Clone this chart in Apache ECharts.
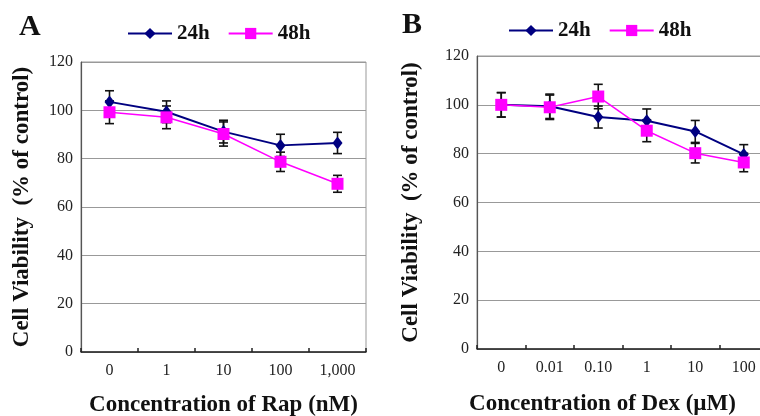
<!DOCTYPE html>
<html>
<head>
<meta charset="utf-8">
<script src="https://cdn.jsdelivr.net/npm/echarts@6/dist/echarts.min.js"></script>
<style>
  html, body { margin: 0; padding: 0; background: #fff; }
  #main { width: 760px; height: 416px; }
</style>
</head>
<body>
<div id="main"></div>
<script>
// panel A - Rap
var catsA = ['0', '1', '10', '100', '1,000'];
var a24 = [103.5, 99.4, 91.2, 85.5, 86.5];
var a24Err = [4.6, 4.5, 4.7, 4.6, 4.4];
var a48 = [99.2, 97.1, 90.2, 78.7, 69.6];
var a48Err = [4.7, 4.7, 5.0, 4.0, 3.5];

// panel B - Dex
var catsB = ['0', '0.01', '0.10', '1', '10', '100'];
var b24 = [100, 99.4, 95.0, 93.5, 89.1, 79.7];
var b24Err = [5.0, 5.0, 4.5, 4.8, 4.5, 4.0];
var b48 = [100, 99.0, 103.4, 89.4, 80.2, 76.4];
var b48Err = [5.0, 5.0, 5.0, 4.5, 4.0, 3.8];

var yTicks = [0, 20, 40, 60, 80, 100, 120];

var serif = "'Liberation Serif', 'Times New Roman', serif";
var navy = '#000080';
var pink = '#ff00ff';

var chart = echarts.init(document.getElementById('main'));

// build [x, low, high] rows for error bars
function errRows(vals, errs) {
  var rows = [];
  for (var i = 0; i < vals.length; i++) {
    rows.push([i, vals[i] - errs[i], vals[i] + errs[i]]);
  }
  return rows;
}

function renderErr(params, api) {
  var x = api.value(0);
  var lo = api.coord([x, api.value(1)]);
  var hi = api.coord([x, api.value(2)]);
  var cap = 4.5;
  var style = { stroke: '#111', lineWidth: 1.6 };
  return {
    type: 'group',
    children: [
      { type: 'line', shape: { x1: hi[0], y1: hi[1], x2: lo[0], y2: lo[1] }, style: style },
      { type: 'line', shape: { x1: hi[0] - cap, y1: hi[1], x2: hi[0] + cap, y2: hi[1] }, style: style },
      { type: 'line', shape: { x1: lo[0] - cap, y1: lo[1], x2: lo[0] + cap, y2: lo[1] }, style: style }
    ]
  };
}

function xAxisOf(idx, cats, name, gap, pad) {
  return {
    type: 'category',
    gridIndex: idx,
    data: cats,
    boundaryGap: true,
    name: name,
    nameLocation: 'middle',
    nameGap: gap,
    nameTextStyle: { fontFamily: serif, fontWeight: 'bold', fontSize: 23, color: '#111', padding: pad },
    axisLine: { lineStyle: { color: '#222', width: 1.5 } },
    axisTick: { show: true, inside: true, length: 4, lineStyle: { color: '#222', width: 1.5 } },
    axisLabel: { fontFamily: serif, fontSize: 16, color: '#222', margin: 11 },
    splitLine: { show: false }
  };
}

function yAxisOf(idx, gap) {
  return {
    type: 'value',
    gridIndex: idx,
    min: 0,
    max: 120,
    interval: 20,
    name: 'Cell Viability  (% of control)',
    nameLocation: 'middle',
    nameGap: gap,
    nameTextStyle: { fontFamily: serif, fontWeight: 'bold', fontSize: 23, color: '#111' },
    axisLine: { show: true, lineStyle: { color: '#555', width: 1.2 } },
    axisTick: { show: false },
    axisLabel: {
      fontFamily: serif, fontSize: 16, color: '#222', margin: 8,
      formatter: function (v) { return yTicks.indexOf(v) >= 0 ? String(v) : ''; }
    },
    splitLine: { show: true, lineStyle: { color: '#999', width: 1 } }
  };
}

function legendOf(left, top) {
  return {
    left: left,
    top: top,
    data: ['24h', '48h'],
    itemWidth: 44,
    itemHeight: 14,
    itemGap: 18,
    textStyle: { fontFamily: serif, fontWeight: 'bold', fontSize: 21, color: '#111' }
  };
}

var option = {
  backgroundColor: '#fff',
  animation: false,
  graphic: [
    { type: 'text', left: 19, top: 12, style: { text: 'A', font: 'bold 30px ' + serif, fill: '#111' } },
    { type: 'text', left: 402, top: 10, style: { text: 'B', font: 'bold 30px ' + serif, fill: '#111' } }
  ],
  legend: [legendOf(122, 18), legendOf(503, 15)],
  grid: [
    { left: 81, top: 62, width: 285, height: 290, outerBoundsMode: 'none', show: true, borderColor: '#999', borderWidth: 1, backgroundColor: 'transparent' },
    { left: 477, top: 56, width: 291, height: 293, outerBoundsMode: 'none', show: true, borderColor: '#999', borderWidth: 1, backgroundColor: 'transparent' }
  ],
  xAxis: [
    xAxisOf(0, catsA, 'Concentration of Rap (nM)', 42, [0, 0, 0, 0]),
    xAxisOf(1, catsB, 'Concentration of Dex (\u00b5M)', 44, [0, 40, 0, 0])
  ],
  yAxis: [yAxisOf(0, 47), yAxisOf(1, 54)],
  series: [
    { type: 'custom', name: 'errA24', xAxisIndex: 0, yAxisIndex: 0, renderItem: renderErr, data: errRows(a24, a24Err), z: 1 },
    { type: 'custom', name: 'errA48', xAxisIndex: 0, yAxisIndex: 0, renderItem: renderErr, data: errRows(a48, a48Err), z: 1 },
    { type: 'custom', name: 'errB24', xAxisIndex: 1, yAxisIndex: 1, renderItem: renderErr, data: errRows(b24, b24Err), z: 1 },
    { type: 'custom', name: 'errB48', xAxisIndex: 1, yAxisIndex: 1, renderItem: renderErr, data: errRows(b48, b48Err), z: 1 },
    {
      name: '24h', type: 'line', xAxisIndex: 0, yAxisIndex: 0, data: a24,
      symbol: 'diamond', symbolSize: [10, 13], z: 3,
      lineStyle: { color: navy, width: 2 }, itemStyle: { color: navy }
    },
    {
      name: '48h', type: 'line', xAxisIndex: 0, yAxisIndex: 0, data: a48,
      symbol: 'rect', symbolSize: 12, z: 4,
      lineStyle: { color: pink, width: 1.5 }, itemStyle: { color: pink }
    },
    {
      name: '24h', type: 'line', xAxisIndex: 1, yAxisIndex: 1, data: b24,
      symbol: 'diamond', symbolSize: [10, 13], z: 3,
      lineStyle: { color: navy, width: 2 }, itemStyle: { color: navy }
    },
    {
      name: '48h', type: 'line', xAxisIndex: 1, yAxisIndex: 1, data: b48,
      symbol: 'rect', symbolSize: 12, z: 4,
      lineStyle: { color: pink, width: 1.5 }, itemStyle: { color: pink }
    }
  ]
};

chart.setOption(option);
</script>
</body>
</html>
